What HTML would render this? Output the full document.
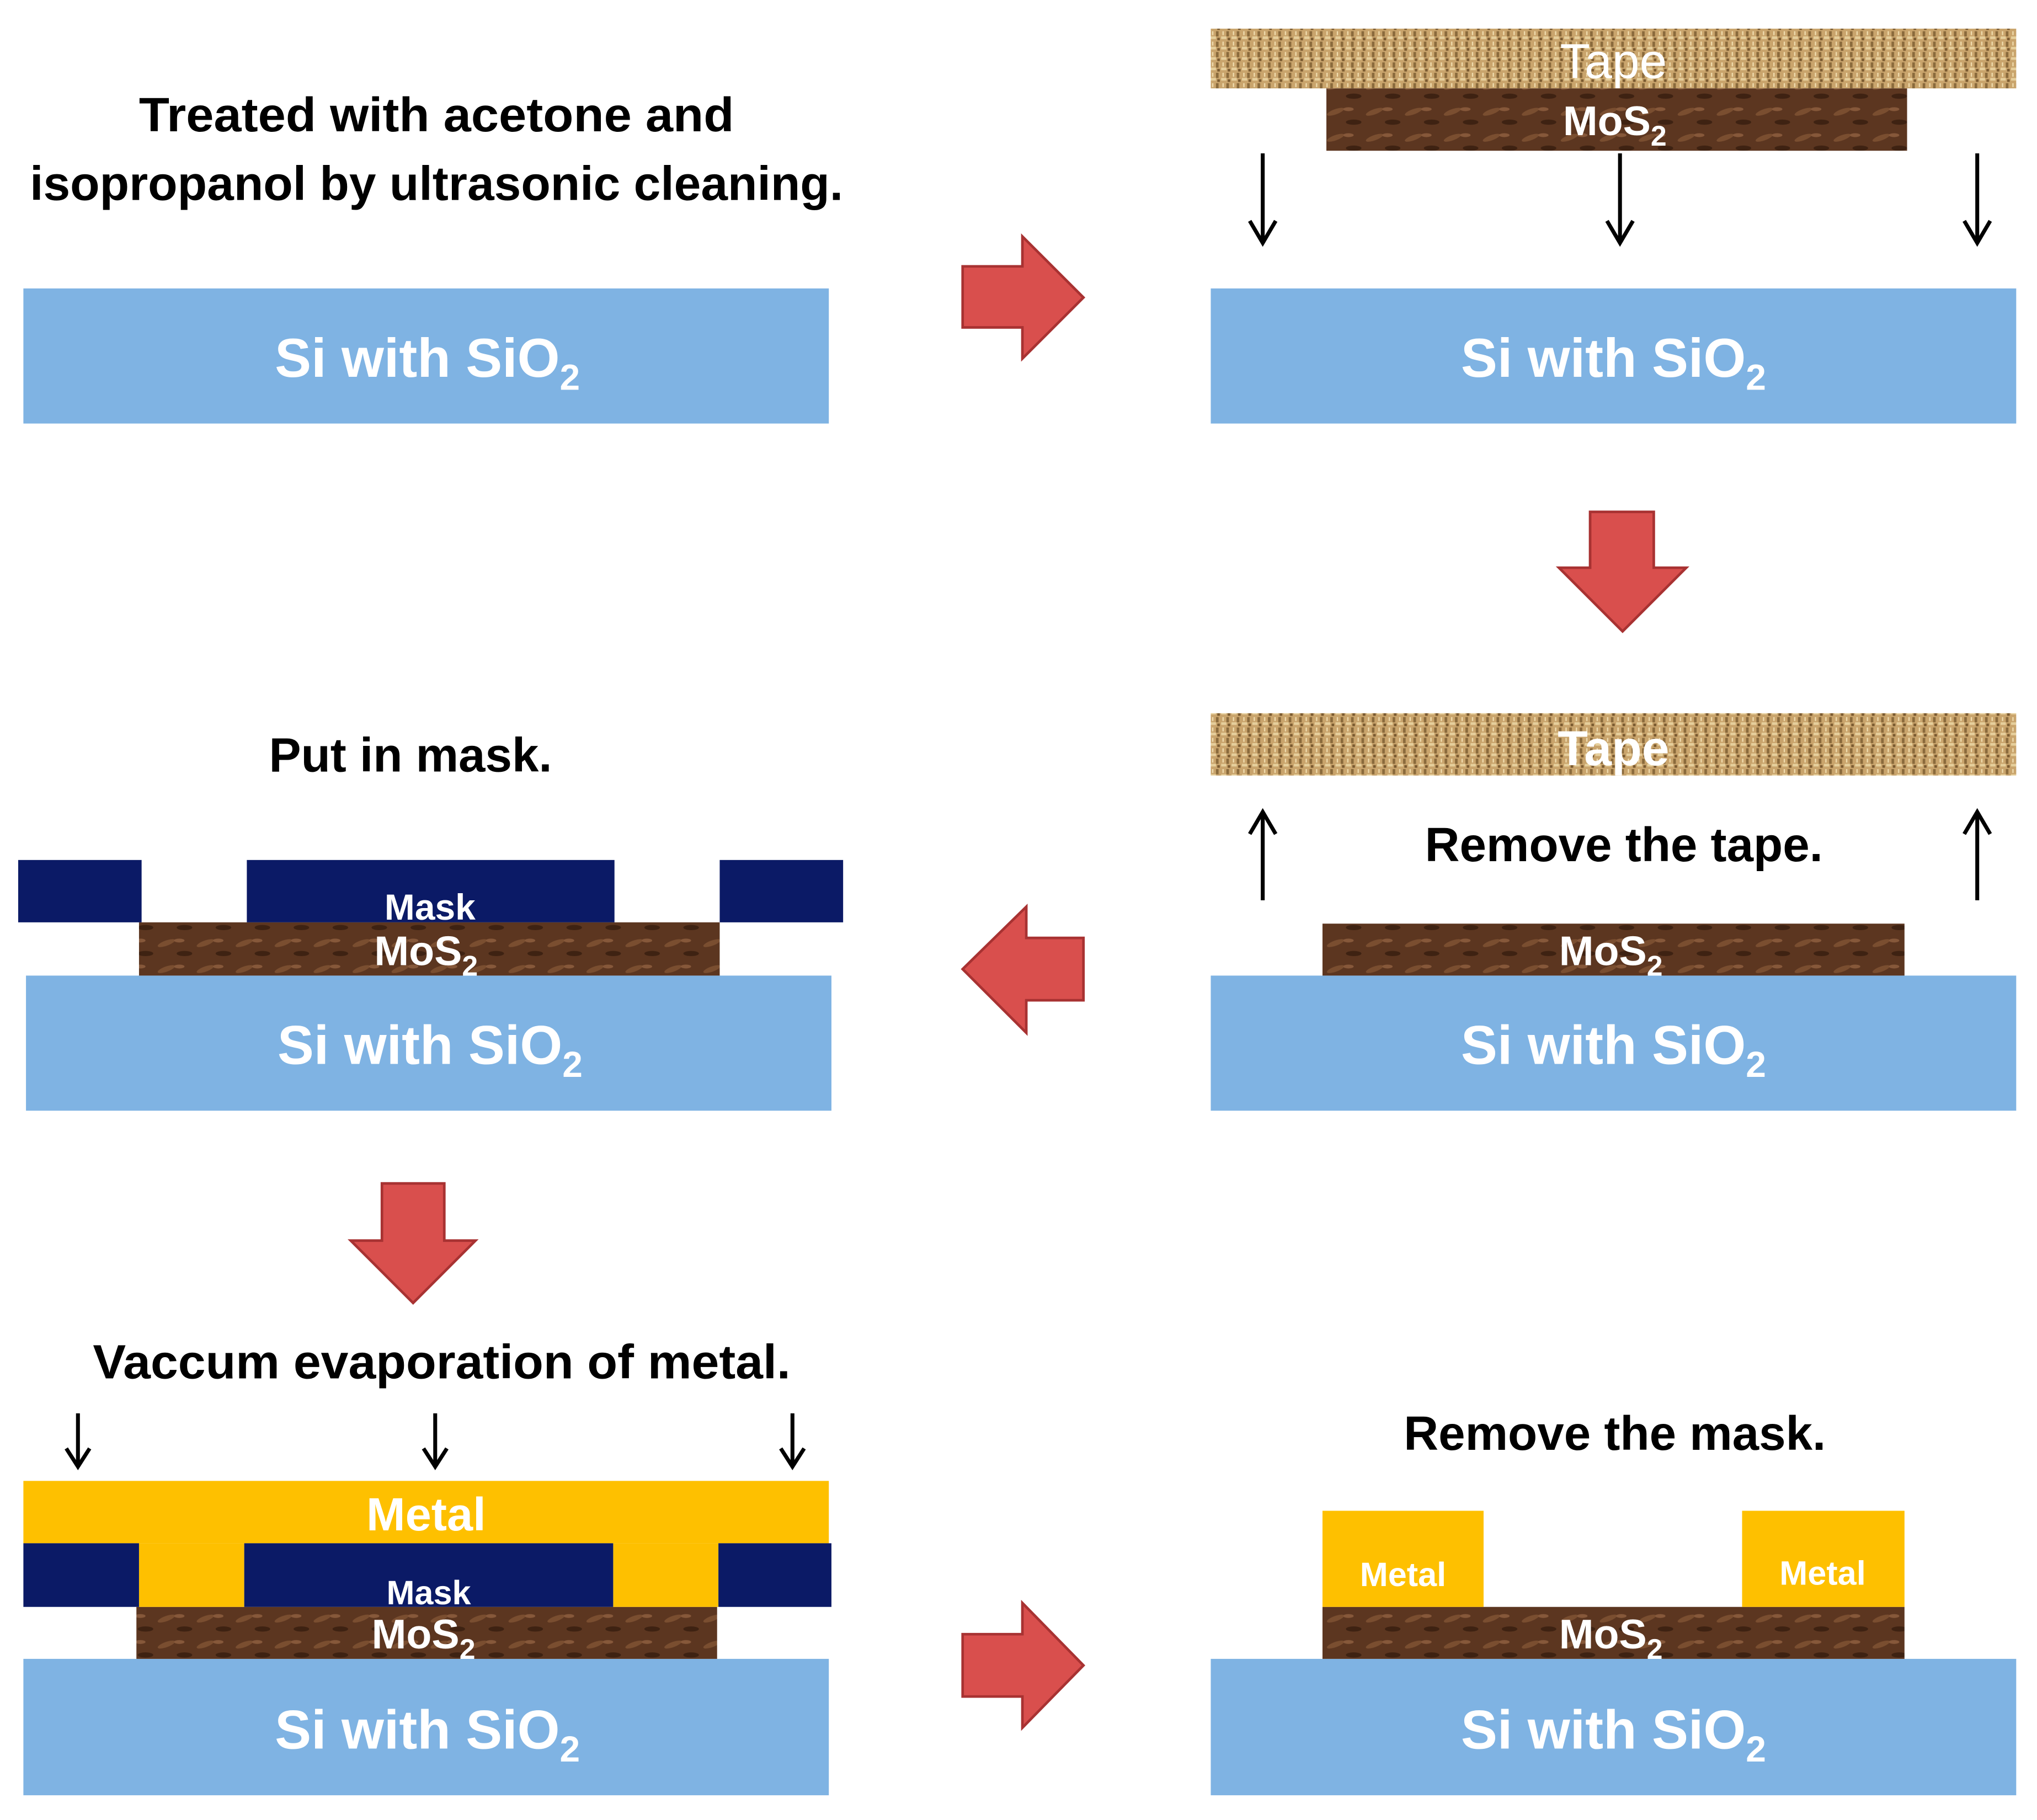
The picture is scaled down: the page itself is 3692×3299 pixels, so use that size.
<!DOCTYPE html>
<html><head><meta charset="utf-8"><style>
html,body{margin:0;padding:0;background:#fff}
svg{display:block}
text{font-family:"Liberation Sans",sans-serif;font-weight:bold}
</style></head><body>
<svg width="3692" height="3299" viewBox="0 0 1568 1401" xmlns="http://www.w3.org/2000/svg">
<defs>
<pattern id="tape" width="8" height="8" patternUnits="userSpaceOnUse">
<rect width="8" height="8" fill="#c9a46c"/>
<rect x="0" y="0" width="2" height="4" fill="#8a6a3c"/>
<rect x="4" y="4" width="4" height="2" fill="#e6cf9c"/>
<rect x="5" y="0" width="1" height="3" fill="#f0dcae"/>
<rect x="1" y="5" width="2" height="2" fill="#7a5a30"/>
</pattern>
<pattern id="mos" width="30" height="20" patternUnits="userSpaceOnUse">
<rect width="30" height="20" fill="#5c3620"/>
<ellipse cx="8" cy="6" rx="7" ry="2" fill="#7a4e30" transform="rotate(-20 8 6)"/>
<ellipse cx="22" cy="14" rx="6" ry="2" fill="#3e2212"/>
<ellipse cx="18" cy="4" rx="4" ry="1.5" fill="#86583a"/>
</pattern>
</defs>
<g fill="#000" font-size="37" text-anchor="middle">
<text x="336" y="101" textLength="458" lengthAdjust="spacingAndGlyphs">Treated with acetone and</text>
<text x="336" y="154" textLength="626" lengthAdjust="spacingAndGlyphs">isopropanol by ultrasonic cleaning.</text>
<text x="316" y="594">Put in mask.</text>
<text x="1250" y="663">Remove the tape.</text>
<text x="340" y="1061" textLength="537" lengthAdjust="spacingAndGlyphs">Vaccum evaporation of metal.</text>
<text x="1243" y="1116">Remove the mask.</text>
</g>
<g fill="#7fb3e3">
<rect x="18" y="222" width="620" height="104"/>
<rect x="932" y="222" width="620" height="104"/>
<rect x="932" y="751" width="620" height="104"/>
<rect x="20" y="751" width="620" height="104"/>
<rect x="18" y="1277" width="620" height="105"/>
<rect x="932" y="1277" width="620" height="105"/>
</g>
<g fill="#fff" font-size="42" text-anchor="middle">
<text x="329" y="290">Si with SiO<tspan font-size="28" dy="10">2</tspan></text>
<text x="1242" y="290">Si with SiO<tspan font-size="28" dy="10">2</tspan></text>
<text x="1242" y="819">Si with SiO<tspan font-size="28" dy="10">2</tspan></text>
<text x="331" y="819">Si with SiO<tspan font-size="28" dy="10">2</tspan></text>
<text x="329" y="1346">Si with SiO<tspan font-size="28" dy="10">2</tspan></text>
<text x="1242" y="1346">Si with SiO<tspan font-size="28" dy="10">2</tspan></text>
</g>
<rect x="932" y="22" width="620" height="46" fill="url(#tape)"/>
<rect x="932" y="549" width="620" height="48" fill="url(#tape)"/>
<g fill="#fff" font-size="38" text-anchor="middle">
<text x="1242" y="60" style="font-weight:normal">Tape</text>
<text x="1242" y="589">Tape</text>
</g>
<g fill="url(#mos)">
<rect x="1021" y="68" width="447" height="48"/>
<rect x="1018" y="711" width="448" height="40"/>
<rect x="107" y="710" width="447" height="41"/>
<rect x="105" y="1237" width="447" height="40"/>
<rect x="1018" y="1237" width="448" height="40"/>
</g>
<g fill="#fff" font-size="32" text-anchor="middle">
<text x="1243" y="104">MoS<tspan font-size="22" dy="8">2</tspan></text>
<text x="1240" y="743">MoS<tspan font-size="22" dy="8">2</tspan></text>
<text x="328" y="743">MoS<tspan font-size="22" dy="8">2</tspan></text>
<text x="326" y="1269">MoS<tspan font-size="22" dy="8">2</tspan></text>
<text x="1240" y="1269">MoS<tspan font-size="22" dy="8">2</tspan></text>
</g>
<g fill="#fec000">
<rect x="18" y="1140" width="620" height="48"/>
<rect x="107" y="1188" width="81" height="49"/>
<rect x="472" y="1188" width="81" height="49"/>
<rect x="1018" y="1163" width="124" height="74"/>
<rect x="1341" y="1163" width="125" height="74"/>
</g>
<g fill="#0b1a66">
<rect x="14" y="662" width="95" height="48"/>
<rect x="190" y="662" width="283" height="48"/>
<rect x="554" y="662" width="95" height="48"/>
<rect x="18" y="1188" width="89" height="49"/>
<rect x="188" y="1188" width="284" height="49"/>
<rect x="553" y="1188" width="87" height="49"/>
</g>
<g fill="#fff" text-anchor="middle">
<text x="331" y="708" font-size="28">Mask</text>
<text x="330" y="1235" font-size="26">Mask</text>
<text x="328" y="1178" font-size="36">Metal</text>
<text x="1080" y="1221" font-size="26">Metal</text>
<text x="1403" y="1220" font-size="26">Metal</text>
</g>
<g stroke="#000" stroke-width="3" fill="none">
<path d="M972,118 V187 M962,170 L972,187 L982,170"/>
<path d="M1247,118 V187 M1237,170 L1247,187 L1257,170"/>
<path d="M1522,118 V187 M1512,170 L1522,187 L1532,170"/>
<path d="M972,693 V625 M962,642 L972,625 L982,642"/>
<path d="M1522,693 V625 M1512,642 L1522,625 L1532,642"/>
<path d="M60,1088 V1129 M51,1115 L60,1129 L69,1115"/>
<path d="M335,1088 V1129 M326,1115 L335,1129 L344,1115"/>
<path d="M610,1088 V1129 M601,1115 L610,1129 L619,1115"/>
</g>
<g fill="#d94f4d" stroke="#a83232" stroke-width="2">
<path d="M741,205 L787,205 L787,182 L834,229 L787,276 L787,252 L741,252 Z"/>
<path d="M741,1258 L787,1258 L787,1234 L834,1282 L787,1330 L787,1306 L741,1306 Z"/>
<path d="M834,722 L790,722 L790,698 L741,746 L790,795 L790,770 L834,770 Z"/>
<path d="M1224,394 L1273,394 L1273,437 L1298,437 L1249,486 L1200,437 L1224,437 Z"/>
<path d="M294,911 L342,911 L342,955 L366,955 L318,1003 L270,955 L294,955 Z"/>
</g>
</svg>
</body></html>
